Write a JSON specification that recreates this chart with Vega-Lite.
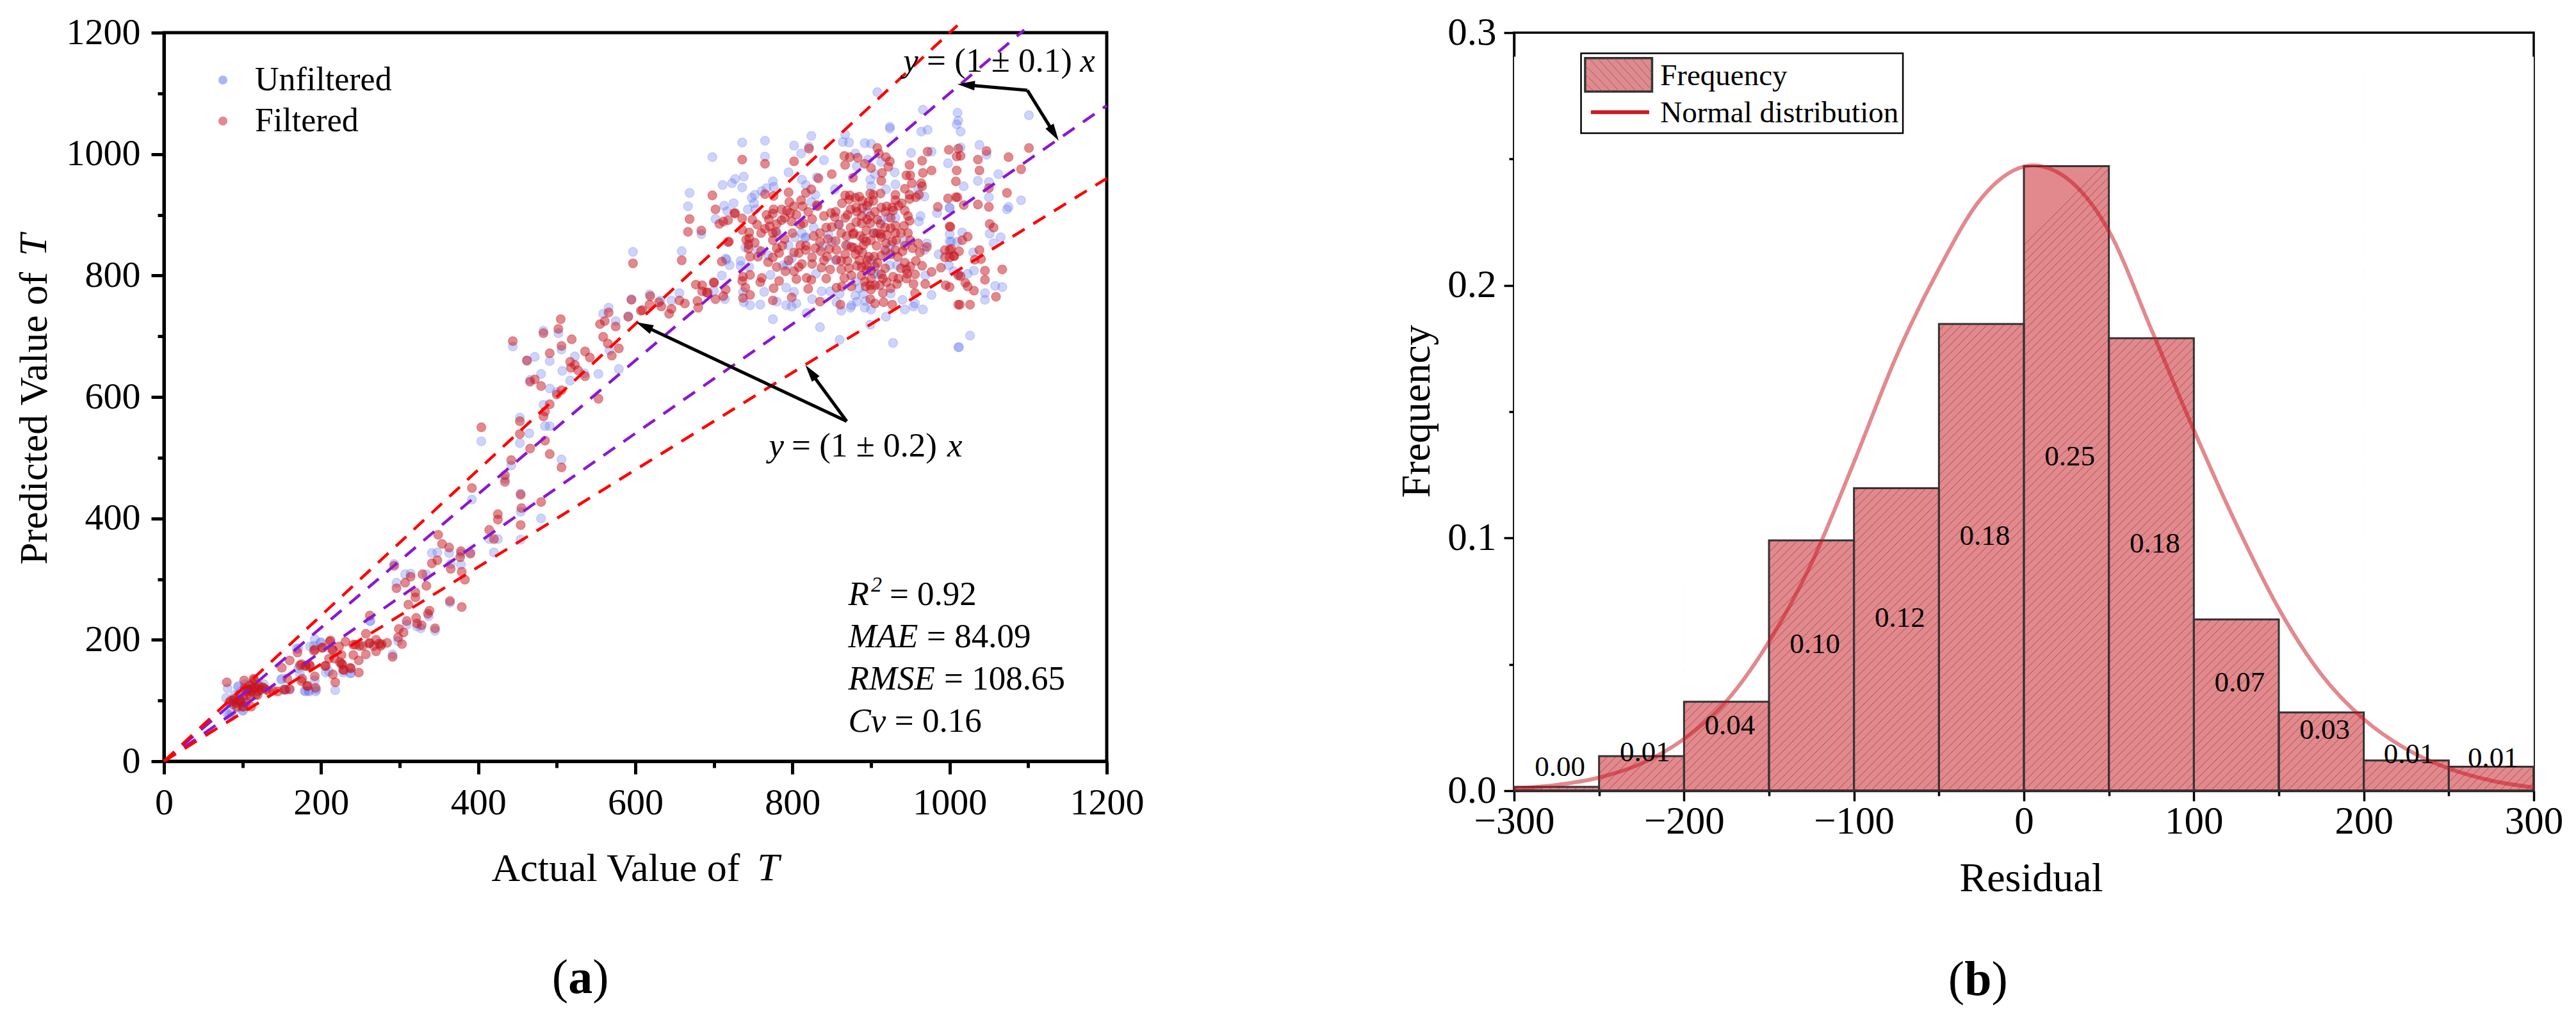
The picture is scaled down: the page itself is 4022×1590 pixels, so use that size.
{"$schema":"https://vega.github.io/schema/vega-lite/v6.json","padding":{"left":19,"top":18,"right":0,"bottom":0},"background":"white","bounds":"flush","spacing":636,"config":{"font":"Liberation Serif","text":{"font":"Liberation Serif"},"axis":{"labelFont":"Liberation Serif","titleFont":"Liberation Serif","labelColor":"black","titleColor":"black","titleFontWeight":"normal","domainColor":"black","tickColor":"black","grid":false}},"datasets":{"bars":[{"lo":-300,"hi":-250,"f":0.0015},{"lo":-250,"hi":-200,"f":0.0137},{"lo":-200,"hi":-150,"f":0.0352},{"lo":-150,"hi":-100,"f":0.0991},{"lo":-100,"hi":-50,"f":0.1197},{"lo":-50,"hi":0,"f":0.1847},{"lo":0,"hi":50,"f":0.2472},{"lo":50,"hi":100,"f":0.1791},{"lo":100,"hi":150,"f":0.0678},{"lo":150,"hi":200,"f":0.031},{"lo":200,"hi":250,"f":0.012},{"lo":250,"hi":300,"f":0.0095}],"unfiltered":[{"x":736,"y":1019},{"x":765,"y":1022},{"x":698,"y":995},{"x":765,"y":996},{"x":802,"y":1014},{"x":824,"y":1030},{"x":821,"y":1012},{"x":811,"y":1001},{"x":840,"y":990},{"x":795,"y":970},{"x":867,"y":1032},{"x":864,"y":1020},{"x":872,"y":1019},{"x":892,"y":1018},{"x":900,"y":1017},{"x":924,"y":1042},{"x":964,"y":1037},{"x":972,"y":1040},{"x":951,"y":1002},{"x":977,"y":1004},{"x":880,"y":1001},{"x":896,"y":991},{"x":882,"y":980},{"x":913,"y":987},{"x":930,"y":970},{"x":931,"y":950},{"x":738,"y":963},{"x":727,"y":959},{"x":723,"y":952},{"x":711,"y":949},{"x":736,"y":945},{"x":775,"y":955},{"x":767,"y":944},{"x":776,"y":946},{"x":761,"y":939},{"x":752,"y":933},{"x":748,"y":928},{"x":751,"y":919},{"x":743,"y":909},{"x":725,"y":919},{"x":713,"y":915},{"x":717,"y":906},{"x":753,"y":909},{"x":702,"y":893},{"x":817,"y":949},{"x":812,"y":958},{"x":831,"y":962},{"x":829,"y":933},{"x":824,"y":921},{"x":827,"y":879},{"x":803,"y":863},{"x":816,"y":862},{"x":817,"y":863},{"x":812,"y":870},{"x":846,"y":867},{"x":859,"y":884},{"x":854,"y":942},{"x":899,"y":958},{"x":905,"y":967},{"x":919,"y":942},{"x":900,"y":947},{"x":960,"y":942},{"x":968,"y":930},{"x":963,"y":898},{"x":961,"y":889},{"x":984,"y":903},{"x":1000,"y":911},{"x":913,"y":891},{"x":922,"y":896},{"x":931,"y":895},{"x":1000,"y":868},{"x":1000,"y":856},{"x":1010,"y":856},{"x":986,"y":835},{"x":971,"y":853},{"x":968,"y":842},{"x":942,"y":856},{"x":919,"y":838},{"x":1011,"y":803},{"x":999,"y":817},{"x":1005,"y":807},{"x":969,"y":800},{"x":933,"y":817},{"x":924,"y":817},{"x":909,"y":802},{"x":904,"y":803},{"x":901,"y":826},{"x":715,"y":828},{"x":720,"y":817},{"x":734,"y":824},{"x":734,"y":816},{"x":745,"y":814},{"x":772,"y":801},{"x":788,"y":817},{"x":793,"y":817},{"x":799,"y":828},{"x":769,"y":833},{"x":756,"y":842},{"x":740,"y":846},{"x":710,"y":800},{"x":700,"y":775},{"x":737,"y":773},{"x":764,"y":773},{"x":792,"y":780},{"x":802,"y":773},{"x":830,"y":803},{"x":837,"y":774},{"x":848,"y":774},{"x":880,"y":767},{"x":882,"y":757},{"x":856,"y":756},{"x":862,"y":742},{"x":874,"y":747},{"x":875,"y":751},{"x":893,"y":758},{"x":892,"y":747},{"x":900,"y":744},{"x":885,"y":779},{"x":825,"y":761},{"x":818,"y":738},{"x":775,"y":728},{"x":835,"y":715},{"x":805,"y":754},{"x":799,"y":749},{"x":792,"y":751},{"x":780,"y":757},{"x":759,"y":752},{"x":746,"y":751},{"x":738,"y":756},{"x":714,"y":761},{"x":943,"y":744},{"x":956,"y":754},{"x":954,"y":749},{"x":966,"y":744},{"x":977,"y":768},{"x":899,"y":719},{"x":919,"y":732},{"x":860,"y":694},{"x":928,"y":689},{"x":1011,"y":682},{"x":1101,"y":1064},{"x":1010,"y":1068},{"x":1011,"y":1055},{"x":1009,"y":1049},{"x":1014,"y":1037},{"x":966,"y":1073},{"x":908,"y":1102},{"x":924,"y":1045},{"x":1014,"y":1011},{"x":1038,"y":1015},{"x":1047,"y":999},{"x":998,"y":985},{"x":1062,"y":967},{"x":1036,"y":956},{"x":1050,"y":954},{"x":1018,"y":947},{"x":1050,"y":929},{"x":1091,"y":924},{"x":1075,"y":913},{"x":1073,"y":909},{"x":1000,"y":912},{"x":1051,"y":869},{"x":1016,"y":871},{"x":1002,"y":856},{"x":1065,"y":863},{"x":1056,"y":853},{"x":1030,"y":838},{"x":1023,"y":803},{"x":1031,"y":808},{"x":1058,"y":783},{"x":1067,"y":781},{"x":1045,"y":771},{"x":1045,"y":760},{"x":1012,"y":682},{"x":1026,"y":701},{"x":669,"y":936},{"x":667,"y":914},{"x":684,"y":868},{"x":659,"y":840},{"x":656,"y":771},{"x":646,"y":759},{"x":618,"y":769},{"x":632,"y":759},{"x":716,"y":826},{"x":597,"y":839},{"x":595,"y":761},{"x":566,"y":747},{"x":559,"y":737},{"x":575,"y":725},{"x":591,"y":733},{"x":483,"y":709},{"x":502,"y":705},{"x":444,"y":683},{"x":506,"y":678},{"x":472,"y":666},{"x":523,"y":667},{"x":491,"y":659},{"x":462,"y":660},{"x":507,"y":643},{"x":480,"y":638},{"x":466,"y":628},{"x":517,"y":627},{"x":535,"y":639},{"x":553,"y":638},{"x":579,"y":646},{"x":567,"y":677},{"x":491,"y":614},{"x":500,"y":608},{"x":483,"y":587},{"x":453,"y":566},{"x":485,"y":552},{"x":491,"y":552},{"x":465,"y":540},{"x":404,"y":527},{"x":453,"y":524},{"x":293,"y":325},{"x":296,"y":294},{"x":307,"y":308},{"x":314,"y":309},{"x":334,"y":308},{"x":341,"y":343},{"x":348,"y":344},{"x":363,"y":343},{"x":365,"y":325},{"x":378,"y":324},{"x":378,"y":342},{"x":390,"y":344},{"x":392,"y":431},{"x":414,"y":366},{"x":425,"y":366},{"x":420,"y":344},{"x":454,"y":365},{"x":454,"y":411},{"x":454,"y":441},{"x":480,"y":400},{"x":442,"y":487},{"x":506,"y":497},{"x":434,"y":465},{"x":364,"y":261},{"x":337,"y":239},{"x":322,"y":222},{"x":327,"y":219},{"x":345,"y":215},{"x":309,"y":225},{"x":262,"y":231},{"x":298,"y":198},{"x":291,"y":176},{"x":218,"y":117},{"x":210,"y":148},{"x":237,"y":145},{"x":228,"y":146},{"x":192,"y":201},{"x":199,"y":195},{"x":186,"y":189},{"x":171,"y":186},{"x":150,"y":136},{"x":194,"y":118},{"x":179,"y":116},{"x":184,"y":116},{"x":192,"y":133},{"x":173,"y":145},{"x":171,"y":153},{"x":160,"y":118},{"x":153,"y":118},{"x":127,"y":127},{"x":95,"y":124},{"x":103,"y":127},{"x":80,"y":79},{"x":85,"y":73},{"x":101,"y":84},{"x":90,"y":109},{"x":98,"y":115},{"x":83,"y":76},{"x":93,"y":88},{"x":81,"y":120},{"x":94,"y":122},{"x":149,"y":134},{"x":180,"y":115},{"x":185,"y":115},{"x":193,"y":115},{"x":263,"y":231},{"x":206,"y":146},{"x":238,"y":145},{"x":169,"y":185},{"x":191,"y":190},{"x":200,"y":196},{"x":86,"y":80},{"x":100,"y":83},{"x":79,"y":104},{"x":850,"y":855},{"x":838,"y":848},{"x":905,"y":870},{"x":895,"y":905},{"x":870,"y":850},{"x":925,"y":850},{"x":855,"y":825},{"x":890,"y":770},{"x":880,"y":790},{"x":860,"y":770},{"x":925,"y":770},{"x":940,"y":760},{"x":780,"y":870},{"x":795,"y":850}],"filtered":[{"x":821,"y":1009},{"x":736,"y":991},{"x":802,"y":988},{"x":765,"y":984},{"x":833,"y":960},{"x":850,"y":967},{"x":866,"y":997},{"x":873,"y":995},{"x":883,"y":994},{"x":867,"y":982},{"x":892,"y":984},{"x":900,"y":977},{"x":908,"y":1010},{"x":910,"y":1001},{"x":919,"y":995},{"x":924,"y":988},{"x":922,"y":979},{"x":914,"y":969},{"x":913,"y":956},{"x":877,"y":961},{"x":949,"y":982},{"x":945,"y":965},{"x":950,"y":965},{"x":952,"y":952},{"x":964,"y":952},{"x":965,"y":989},{"x":972,"y":1004},{"x":977,"y":973},{"x":966,"y":969},{"x":965,"y":947},{"x":943,"y":943},{"x":949,"y":933},{"x":961,"y":933},{"x":957,"y":929},{"x":949,"y":926},{"x":698,"y":932},{"x":702,"y":909},{"x":726,"y":903},{"x":727,"y":902},{"x":718,"y":891},{"x":712,"y":889},{"x":707,"y":885},{"x":736,"y":894},{"x":749,"y":892},{"x":755,"y":884},{"x":736,"y":875},{"x":745,"y":871},{"x":745,"y":861},{"x":752,"y":854},{"x":741,"y":859},{"x":744,"y":851},{"x":744,"y":844},{"x":746,"y":831},{"x":756,"y":831},{"x":719,"y":856},{"x":710,"y":823},{"x":765,"y":934},{"x":776,"y":931},{"x":795,"y":937},{"x":817,"y":936},{"x":824,"y":942},{"x":811,"y":924},{"x":796,"y":921},{"x":786,"y":909},{"x":802,"y":914},{"x":813,"y":914},{"x":776,"y":909},{"x":767,"y":900},{"x":775,"y":902},{"x":793,"y":907},{"x":797,"y":903},{"x":786,"y":891},{"x":799,"y":889},{"x":810,"y":884},{"x":814,"y":886},{"x":825,"y":893},{"x":832,"y":914},{"x":831,"y":916},{"x":840,"y":898},{"x":849,"y":903},{"x":854,"y":896},{"x":843,"y":879},{"x":835,"y":870},{"x":827,"y":865},{"x":765,"y":877},{"x":775,"y":870},{"x":779,"y":872},{"x":775,"y":858},{"x":771,"y":881},{"x":787,"y":849},{"x":780,"y":845},{"x":783,"y":837},{"x":802,"y":838},{"x":808,"y":837},{"x":817,"y":849},{"x":817,"y":842},{"x":829,"y":845},{"x":836,"y":840},{"x":844,"y":831},{"x":847,"y":844},{"x":855,"y":857},{"x":856,"y":842},{"x":867,"y":835},{"x":856,"y":826},{"x":862,"y":824},{"x":870,"y":824},{"x":848,"y":810},{"x":837,"y":813},{"x":825,"y":819},{"x":812,"y":819},{"x":808,"y":814},{"x":802,"y":807},{"x":791,"y":807},{"x":780,"y":814},{"x":769,"y":822},{"x":805,"y":794},{"x":818,"y":796},{"x":824,"y":793},{"x":783,"y":791},{"x":761,"y":796},{"x":759,"y":789},{"x":737,"y":798},{"x":736,"y":791},{"x":746,"y":801},{"x":740,"y":780},{"x":746,"y":768},{"x":737,"y":763},{"x":775,"y":759},{"x":776,"y":779},{"x":820,"y":778},{"x":799,"y":764},{"x":835,"y":757},{"x":700,"y":789},{"x":715,"y":777},{"x":712,"y":766},{"x":702,"y":761},{"x":691,"y":772},{"x":867,"y":932},{"x":873,"y":932},{"x":880,"y":928},{"x":863,"y":919},{"x":874,"y":909},{"x":881,"y":912},{"x":889,"y":923},{"x":899,"y":935},{"x":903,"y":933},{"x":912,"y":935},{"x":897,"y":921},{"x":903,"y":923},{"x":889,"y":911},{"x":913,"y":912},{"x":920,"y":914},{"x":927,"y":912},{"x":931,"y":933},{"x":931,"y":924},{"x":939,"y":919},{"x":943,"y":907},{"x":947,"y":898},{"x":949,"y":890},{"x":928,"y":907},{"x":888,"y":898},{"x":899,"y":898},{"x":867,"y":895},{"x":859,"y":884},{"x":874,"y":879},{"x":881,"y":888},{"x":888,"y":886},{"x":899,"y":886},{"x":894,"y":874},{"x":878,"y":870},{"x":877,"y":868},{"x":869,"y":865},{"x":886,"y":865},{"x":894,"y":856},{"x":890,"y":861},{"x":900,"y":858},{"x":918,"y":879},{"x":912,"y":868},{"x":913,"y":863},{"x":908,"y":870},{"x":920,"y":867},{"x":931,"y":882},{"x":931,"y":870},{"x":932,"y":858},{"x":919,"y":853},{"x":927,"y":856},{"x":947,"y":870},{"x":942,"y":882},{"x":907,"y":849},{"x":931,"y":842},{"x":960,"y":853},{"x":953,"y":845},{"x":971,"y":847},{"x":943,"y":849},{"x":878,"y":846},{"x":884,"y":842},{"x":889,"y":838},{"x":875,"y":847},{"x":904,"y":831},{"x":913,"y":833},{"x":897,"y":831},{"x":934,"y":831},{"x":894,"y":817},{"x":888,"y":814},{"x":882,"y":816},{"x":894,"y":809},{"x":908,"y":821},{"x":918,"y":812},{"x":913,"y":802},{"x":928,"y":798},{"x":920,"y":789},{"x":911,"y":784},{"x":905,"y":784},{"x":899,"y":784},{"x":893,"y":782},{"x":900,"y":777},{"x":915,"y":771},{"x":925,"y":779},{"x":933,"y":786},{"x":943,"y":821},{"x":957,"y":824},{"x":965,"y":816},{"x":945,"y":810},{"x":956,"y":802},{"x":946,"y":803},{"x":977,"y":806},{"x":954,"y":786},{"x":969,"y":786},{"x":956,"y":771},{"x":866,"y":796},{"x":875,"y":782},{"x":856,"y":780},{"x":863,"y":782},{"x":861,"y":752},{"x":899,"y":761},{"x":905,"y":754},{"x":916,"y":756},{"x":927,"y":752},{"x":985,"y":913},{"x":998,"y":927},{"x":1008,"y":929},{"x":1000,"y":881},{"x":994,"y":842},{"x":1000,"y":842},{"x":994,"y":830},{"x":1000,"y":830},{"x":1006,"y":832},{"x":989,"y":813},{"x":995,"y":784},{"x":1000,"y":781},{"x":1011,"y":800},{"x":1011,"y":752},{"x":1101,"y":1010},{"x":1075,"y":995},{"x":1091,"y":975},{"x":1047,"y":1005},{"x":1036,"y":991},{"x":1038,"y":973},{"x":1011,"y":1009},{"x":1009,"y":996},{"x":1014,"y":997},{"x":999,"y":1007},{"x":1009,"y":973},{"x":1008,"y":955},{"x":1050,"y":944},{"x":1073,"y":936},{"x":1036,"y":917},{"x":1050,"y":913},{"x":1010,"y":929},{"x":1018,"y":916},{"x":1001,"y":880},{"x":1051,"y":885},{"x":1056,"y":879},{"x":1023,"y":864},{"x":1016,"y":858},{"x":1038,"y":842},{"x":1012,"y":840},{"x":1002,"y":844},{"x":1005,"y":832},{"x":1032,"y":826},{"x":1040,"y":827},{"x":1045,"y":808},{"x":1067,"y":810},{"x":1014,"y":799},{"x":1020,"y":788},{"x":1045,"y":793},{"x":1023,"y":782},{"x":1031,"y":775},{"x":1059,"y":765},{"x":1013,"y":752},{"x":1026,"y":752},{"x":669,"y":893},{"x":667,"y":872},{"x":684,"y":874},{"x":659,"y":825},{"x":718,"y":855},{"x":700,"y":788},{"x":677,"y":785},{"x":685,"y":784},{"x":685,"y":774},{"x":692,"y":772},{"x":680,"y":747},{"x":679,"y":758},{"x":663,"y":754},{"x":656,"y":759},{"x":646,"y":745},{"x":633,"y":749},{"x":630,"y":756},{"x":619,"y":766},{"x":618,"y":752},{"x":609,"y":743},{"x":643,"y":737},{"x":597,"y":820},{"x":595,"y":760},{"x":607,"y":742},{"x":505,"y":728},{"x":502,"y":712},{"x":483,"y":705},{"x":519,"y":695},{"x":444,"y":692},{"x":491,"y":672},{"x":506,"y":684},{"x":462,"y":660},{"x":517,"y":658},{"x":523,"y":653},{"x":518,"y":648},{"x":527,"y":644},{"x":536,"y":634},{"x":536,"y":675},{"x":542,"y":665},{"x":466,"y":625},{"x":472,"y":629},{"x":480,"y":618},{"x":555,"y":720},{"x":561,"y":725},{"x":566,"y":739},{"x":575,"y":716},{"x":591,"y":732},{"x":559,"y":699},{"x":565,"y":688},{"x":570,"y":668},{"x":579,"y":680},{"x":553,"y":597},{"x":506,"y":611},{"x":500,"y":604},{"x":491,"y":588},{"x":485,"y":576},{"x":483,"y":568},{"x":453,"y":560},{"x":453,"y":539},{"x":404,"y":550},{"x":485,"y":528},{"x":466,"y":515},{"x":442,"y":496},{"x":491,"y":506},{"x":506,"y":484},{"x":434,"y":471},{"x":434,"y":460},{"x":392,"y":450},{"x":454,"y":439},{"x":480,"y":427},{"x":455,"y":417},{"x":425,"y":407},{"x":425,"y":398},{"x":454,"y":389},{"x":414,"y":381},{"x":420,"y":366},{"x":349,"y":373},{"x":354,"y":358},{"x":363,"y":352},{"x":378,"y":346},{"x":390,"y":342},{"x":377,"y":336},{"x":348,"y":331},{"x":341,"y":326},{"x":365,"y":317},{"x":293,"y":322},{"x":379,"y":312},{"x":383,"y":299},{"x":329,"y":308},{"x":314,"y":304},{"x":307,"y":294},{"x":296,"y":285},{"x":334,"y":289},{"x":320,"y":278},{"x":320,"y":270},{"x":311,"y":258},{"x":364,"y":264},{"x":379,"y":254},{"x":338,"y":248},{"x":336,"y":243},{"x":262,"y":240},{"x":321,"y":236},{"x":309,"y":231},{"x":322,"y":227},{"x":328,"y":224},{"x":345,"y":219},{"x":299,"y":218},{"x":257,"y":210},{"x":305,"y":212},{"x":298,"y":204},{"x":303,"y":193},{"x":291,"y":172},{"x":284,"y":195},{"x":270,"y":200},{"x":262,"y":195},{"x":277,"y":193},{"x":270,"y":181},{"x":257,"y":176},{"x":249,"y":190},{"x":244,"y":192},{"x":241,"y":175},{"x":248,"y":166},{"x":248,"y":146},{"x":237,"y":154},{"x":231,"y":197},{"x":223,"y":189},{"x":211,"y":197},{"x":214,"y":184},{"x":201,"y":187},{"x":192,"y":184},{"x":170,"y":179},{"x":160,"y":166},{"x":150,"y":154},{"x":227,"y":160},{"x":224,"y":163},{"x":228,"y":151},{"x":205,"y":157},{"x":192,"y":140},{"x":215,"y":143},{"x":218,"y":130},{"x":173,"y":158},{"x":181,"y":157},{"x":186,"y":157},{"x":176,"y":136},{"x":182,"y":124},{"x":193,"y":121},{"x":157,"y":136},{"x":160,"y":119},{"x":153,"y":118},{"x":145,"y":115},{"x":134,"y":115},{"x":127,"y":121},{"x":114,"y":136},{"x":102,"y":133},{"x":80,"y":130},{"x":103,"y":121},{"x":111,"y":115},{"x":119,"y":109},{"x":108,"y":118},{"x":85,"y":100},{"x":90,"y":103},{"x":98,"y":97},{"x":88,"y":94},{"x":93,"y":90},{"x":101,"y":90},{"x":111,"y":90},{"x":83,"y":97},{"x":121,"y":124},{"x":116,"y":121},{"x":106,"y":109},{"x":95,"y":109},{"x":115,"y":134},{"x":109,"y":125},{"x":117,"y":122},{"x":107,"y":118},{"x":123,"y":118},{"x":130,"y":118},{"x":139,"y":116},{"x":155,"y":118},{"x":96,"y":101},{"x":100,"y":90},{"x":101,"y":104},{"x":117,"y":110},{"x":175,"y":160},{"x":180,"y":157},{"x":185,"y":159},{"x":175,"y":132},{"x":183,"y":124},{"x":206,"y":157},{"x":226,"y":160},{"x":229,"y":150},{"x":238,"y":153},{"x":191,"y":182},{"x":202,"y":187},{"x":212,"y":199},{"x":215,"y":183},{"x":241,"y":192},{"x":253,"y":190},{"x":267,"y":190},{"x":274,"y":194},{"x":276,"y":190},{"x":261,"y":194},{"x":226,"y":175},{"x":217,"y":169},{"x":210,"y":169},{"x":872,"y":925},{"x":885,"y":930},{"x":895,"y":915},{"x":905,"y":905},{"x":918,"y":905},{"x":935,"y":915},{"x":925,"y":895},{"x":912,"y":885},{"x":903,"y":870},{"x":890,"y":850},{"x":880,"y":835},{"x":868,"y":850},{"x":862,"y":870},{"x":855,"y":905},{"x":870,"y":900},{"x":882,"y":905},{"x":895,"y":892},{"x":908,"y":892},{"x":918,"y":842},{"x":925,"y":835},{"x":940,"y":840},{"x":950,"y":858},{"x":938,"y":870},{"x":925,"y":878},{"x":905,"y":815},{"x":895,"y":825},{"x":885,"y":825},{"x":872,"y":812},{"x":888,"y":800},{"x":900,"y":795},{"x":915,"y":795},{"x":900,"y":808},{"x":892,"y":790},{"x":938,"y":812},{"x":950,"y":815},{"x":962,"y":838},{"x":790,"y":895},{"x":805,"y":900},{"x":820,"y":905},{"x":780,"y":885},{"x":770,"y":892},{"x":760,"y":870},{"x":790,"y":860},{"x":800,"y":870},{"x":810,"y":850},{"x":825,"y":830},{"x":840,"y":825},{"x":795,"y":825},{"x":775,"y":830},{"x":760,"y":840},{"x":845,"y":860},{"x":835,"y":855},{"x":850,"y":880},{"x":862,"y":810},{"x":875,"y":800},{"x":843,"y":795},{"x":935,"y":795},{"x":945,"y":795},{"x":92,"y":96},{"x":97,"y":100},{"x":88,"y":100},{"x":104,"y":96},{"x":110,"y":108},{"x":112,"y":120},{"x":120,"y":115},{"x":125,"y":122},{"x":113,"y":128},{"x":105,"y":115}]},"hconcat":[{"width":1472,"height":1138,"view":{"stroke":"black","strokeWidth":5},"layer":[{"data":{"name":"unfiltered"},"mark":{"type":"point","filled":true,"size":200,"fillOpacity":0.3,"stroke":"#5a6cf0","strokeOpacity":0.22,"strokeWidth":1.5},"encoding":{"x":{"field":"x","type":"quantitative","scale":{"domain":[0,1200],"nice":false,"zero":false},"axis":{"values":[0,100,200,300,400,500,600,700,800,900,1000,1100,1200],"format":"d","labelExpr":"datum.value % 200 ? '' : datum.label","title":"Actual Value of","titleFontSize":62,"titleX":705,"titleY":186,"titleAlign":"center","titleBaseline":"alphabetic","labelFontSize":58,"labelPadding":16,"labelOverlap":false,"labelFlush":false,"tickSize":{"condition":{"test":"datum.value % 200 === 0","value":20},"value":10},"tickWidth":5,"domainWidth":5}},"y":{"field":"y","type":"quantitative","scale":{"domain":[0,1200],"nice":false,"zero":false},"axis":{"values":[0,100,200,300,400,500,600,700,800,900,1000,1100,1200],"format":"d","labelExpr":"datum.value % 200 ? '' : datum.label","title":"Predicted Value of","titleFontSize":62,"titleX":-184,"titleY":602,"titleAlign":"center","titleBaseline":"alphabetic","labelFontSize":58,"labelPadding":17,"labelOverlap":false,"labelFlush":false,"tickSize":{"condition":{"test":"datum.value % 200 === 0","value":20},"value":10},"tickWidth":5,"domainWidth":5}},"color":{"datum":"Unfiltered","scale":{"domain":["Unfiltered","Filtered"],"range":["#5a6cf0","#c5141e"]},"legend":{"title":null,"orient":"none","legendX":66,"legendY":48,"labelFontSize":52,"labelFont":"Liberation Serif","labelColor":"black","labelLimit":0,"symbolType":"circle","symbolSize":200,"symbolOpacity":0.5,"symbolStrokeWidth":0,"labelOffset":24,"rowPadding":12}}}},{"data":{"name":"filtered"},"mark":{"type":"point","filled":true,"size":200,"fillOpacity":0.5,"stroke":"#c5141e","strokeOpacity":0.3,"strokeWidth":1.5},"encoding":{"x":{"field":"x","type":"quantitative"},"y":{"field":"y","type":"quantitative"},"color":{"datum":"Filtered"}}},{"data":{"values":[{"k":"1.1","x":0,"y":0},{"k":"1.1","x":1095,"y":1204.5},{"k":"0.9","x":0,"y":0},{"k":"0.9","x":1200,"y":1080}]},"mark":{"type":"line","stroke":"#8a18d0","strokeWidth":4.5,"strokeDash":[22,16],"clip":false},"encoding":{"x":{"field":"x","type":"quantitative"},"y":{"field":"y","type":"quantitative"},"detail":{"field":"k"}}},{"data":{"values":[{"k":"1.2","x":0,"y":0},{"k":"1.2","x":1010,"y":1212},{"k":"0.8","x":0,"y":0},{"k":"0.8","x":1200,"y":960}]},"mark":{"type":"line","stroke":"#ff0000","strokeWidth":4.5,"strokeDash":[22,16],"clip":false},"encoding":{"x":{"field":"x","type":"quantitative"},"y":{"field":"y","type":"quantitative"},"detail":{"field":"k"}}},{"data":{"values":[{"x":1099,"y":1105,"x2":1021,"y2":1114},{"x":1099,"y":1105,"x2":1133,"y2":1034},{"x":869,"y":560,"x2":823,"y2":641},{"x":869,"y":560,"x2":611,"y2":717}]},"mark":{"type":"rule","color":"black","strokeWidth":5},"encoding":{"x":{"field":"x","type":"quantitative"},"y":{"field":"y","type":"quantitative"},"x2":{"field":"x2"},"y2":{"field":"y2"}}},{"data":{"values":[{"x":1021,"y":1114,"angle":275},{"x":1133,"y":1034,"angle":148},{"x":823,"y":641,"angle":323},{"x":611,"y":717,"angle":295}]},"mark":{"type":"point","filled":true,"color":"black","opacity":1,"size":729,"shape":"M0,-1L0.55,1L-0.55,1Z"},"encoding":{"x":{"field":"x","type":"quantitative"},"y":{"field":"y","type":"quantitative"},"angle":{"field":"angle","type":"quantitative","scale":null}}},{"data":{"values":[{"x":923.6,"y":257,"t":"= 0.92"},{"x":971,"y":188,"t":"= 84.09"},{"x":993,"y":118,"t":"= 108.65"},{"x":930,"y":48,"t":"= 0.16"},{"x":971,"y":1136,"t":"= (1 ± 0.1)"},{"x":799,"y":502,"t":"= (1 ± 0.2)"}]},"mark":{"type":"text","fontSize":53,"align":"left","baseline":"alphabetic","color":"black"},"encoding":{"x":{"field":"x","type":"quantitative"},"y":{"field":"y","type":"quantitative"},"text":{"field":"t"}}},{"data":{"values":[{"x":871,"y":257,"t":"R"},{"x":871,"y":188,"t":"MAE"},{"x":871,"y":118,"t":"RMSE"},{"x":871,"y":48,"t":"Cv"},{"x":941,"y":1136,"t":"y"},{"x":1166,"y":1136,"t":"x"},{"x":770,"y":502,"t":"y"},{"x":997,"y":502,"t":"x"}]},"mark":{"type":"text","fontSize":53,"fontStyle":"italic","align":"left","baseline":"alphabetic","color":"black"},"encoding":{"x":{"field":"x","type":"quantitative"},"y":{"field":"y","type":"quantitative"},"text":{"field":"t"}}},{"data":{"values":[{"x":900,"y":279,"t":"2"}]},"mark":{"type":"text","fontSize":34,"fontStyle":"italic","align":"left","baseline":"alphabetic","color":"black"},"encoding":{"x":{"field":"x","type":"quantitative"},"y":{"field":"y","type":"quantitative"},"text":{"field":"t"}}},{"data":{"values":[{"x":755,"y":-196,"t":"T"}]},"mark":{"type":"text","fontSize":62,"fontStyle":"italic","align":"left","baseline":"alphabetic","color":"black"},"encoding":{"x":{"field":"x","type":"quantitative"},"y":{"field":"y","type":"quantitative"},"text":{"field":"t"}}},{"data":{"values":[{"x":-150,"y":832,"t":"T"}]},"mark":{"type":"text","fontSize":62,"fontStyle":"italic","angle":270,"align":"left","baseline":"alphabetic","color":"black"},"encoding":{"x":{"field":"x","type":"quantitative"},"y":{"field":"y","type":"quantitative"},"text":{"field":"t"}}},{"data":{"values":[{"x":514.5,"y":-382,"t":"("}]},"mark":{"type":"text","fontSize":76,"align":"right","baseline":"alphabetic","color":"black"},"encoding":{"x":{"field":"x","type":"quantitative"},"y":{"field":"y","type":"quantitative"},"text":{"field":"t"}}},{"data":{"values":[{"x":530,"y":-382,"t":"a"}]},"mark":{"type":"text","fontSize":76,"fontWeight":"bold","align":"center","baseline":"alphabetic","color":"black"},"encoding":{"x":{"field":"x","type":"quantitative"},"y":{"field":"y","type":"quantitative"},"text":{"field":"t"}}},{"data":{"values":[{"x":545.5,"y":-382,"t":")"}]},"mark":{"type":"text","fontSize":76,"align":"left","baseline":"alphabetic","color":"black"},"encoding":{"x":{"field":"x","type":"quantitative"},"y":{"field":"y","type":"quantitative"},"text":{"field":"t"}}}]},{"width":1592,"height":1184,"view":{"stroke":"black","strokeWidth":3.5},"layer":[{"data":{"values":[{"h":-320,"h2":110},{"h":-315,"h2":115},{"h":-310,"h2":120},{"h":-305,"h2":125},{"h":-300,"h2":130},{"h":-295,"h2":135},{"h":-290,"h2":140},{"h":-285,"h2":145},{"h":-280,"h2":150},{"h":-275,"h2":155},{"h":-270,"h2":160},{"h":-265,"h2":165},{"h":-260,"h2":170},{"h":-255,"h2":175},{"h":-250,"h2":180},{"h":-245,"h2":185},{"h":-240,"h2":190},{"h":-235,"h2":195},{"h":-230,"h2":200},{"h":-225,"h2":205},{"h":-220,"h2":210},{"h":-215,"h2":215},{"h":-210,"h2":220},{"h":-205,"h2":225},{"h":-200,"h2":230},{"h":-195,"h2":235},{"h":-190,"h2":240},{"h":-185,"h2":245},{"h":-180,"h2":250},{"h":-175,"h2":255},{"h":-170,"h2":260},{"h":-165,"h2":265},{"h":-160,"h2":270},{"h":-155,"h2":275},{"h":-150,"h2":280},{"h":-145,"h2":285},{"h":-140,"h2":290},{"h":-135,"h2":295},{"h":-130,"h2":300},{"h":-125,"h2":305},{"h":-120,"h2":310},{"h":-115,"h2":315},{"h":-110,"h2":320},{"h":-105,"h2":325},{"h":-100,"h2":330},{"h":-95,"h2":335},{"h":-90,"h2":340},{"h":-85,"h2":345},{"h":-80,"h2":350},{"h":-75,"h2":355},{"h":-70,"h2":360},{"h":-65,"h2":365},{"h":-60,"h2":370},{"h":-55,"h2":375},{"h":-50,"h2":380},{"h":-45,"h2":385},{"h":-40,"h2":390},{"h":-35,"h2":395},{"h":-30,"h2":400},{"h":-25,"h2":405},{"h":-20,"h2":410},{"h":-15,"h2":415},{"h":-10,"h2":420},{"h":-5,"h2":425},{"h":0,"h2":430},{"h":5,"h2":435},{"h":10,"h2":440},{"h":15,"h2":445},{"h":20,"h2":450},{"h":25,"h2":455},{"h":30,"h2":460},{"h":35,"h2":465},{"h":40,"h2":470},{"h":45,"h2":475},{"h":50,"h2":480},{"h":55,"h2":485},{"h":60,"h2":490},{"h":65,"h2":495},{"h":70,"h2":500},{"h":75,"h2":505},{"h":80,"h2":510},{"h":85,"h2":515},{"h":90,"h2":520},{"h":95,"h2":525},{"h":100,"h2":530},{"h":105,"h2":535},{"h":110,"h2":540},{"h":115,"h2":545},{"h":120,"h2":550},{"h":125,"h2":555},{"h":130,"h2":560},{"h":135,"h2":565},{"h":140,"h2":570},{"h":145,"h2":575},{"h":150,"h2":580},{"h":155,"h2":585},{"h":160,"h2":590},{"h":165,"h2":595},{"h":170,"h2":600},{"h":175,"h2":605},{"h":180,"h2":610},{"h":185,"h2":615},{"h":190,"h2":620},{"h":195,"h2":625},{"h":200,"h2":630},{"h":205,"h2":635},{"h":210,"h2":640},{"h":215,"h2":645},{"h":220,"h2":650},{"h":225,"h2":655},{"h":230,"h2":660},{"h":235,"h2":665},{"h":240,"h2":670},{"h":245,"h2":675},{"h":250,"h2":680},{"h":255,"h2":685},{"h":260,"h2":690},{"h":265,"h2":695},{"h":270,"h2":700},{"h":275,"h2":705},{"h":280,"h2":710},{"h":285,"h2":715},{"h":290,"h2":720},{"h":295,"h2":725}]},"mark":{"type":"rule","color":"#666666","strokeWidth":0.8,"clip":true},"encoding":{"x":{"field":"h","type":"quantitative","scale":{"domain":[-300,300],"nice":false,"zero":false},"axis":{"values":[-300,-250,-200,-150,-100,-50,0,50,100,150,200,250,300],"labelExpr":"datum.value % 100 ? '' : datum.label","title":"Residual","titleFontSize":64,"titleX":807,"titleY":156,"titleAlign":"center","titleBaseline":"alphabetic","labelFontSize":61,"labelPadding":2,"labelOverlap":false,"labelFlush":false,"tickSize":{"condition":{"test":"datum.value % 100 === 0","value":16},"value":8},"tickWidth":3.5,"domainWidth":3.5}},"x2":{"field":"h2"},"y":{"datum":0,"type":"quantitative","scale":{"domain":[0,0.3],"nice":false,"zero":false},"axis":{"values":[0,0.05,0.1,0.15,0.2,0.25,0.3],"labelExpr":"round(datum.value*100) % 10 ? '' : format(datum.value,'.1f')","title":"Frequency","titleFontSize":64,"titleX":-133,"titleY":591,"titleAlign":"center","titleBaseline":"alphabetic","labelFontSize":61,"labelPadding":12,"labelOverlap":false,"labelFlush":false,"tickSize":{"condition":{"test":"round(datum.value*100) % 10 === 0","value":16},"value":8},"tickWidth":3.5,"domainWidth":3.5}},"y2":{"datum":0.29}}},{"data":{"name":"bars"},"mark":{"type":"rect","fill":"white"},"encoding":{"x":{"field":"lo","type":"quantitative"},"x2":{"field":"hi"},"y":{"field":"f","type":"quantitative"},"y2":{"datum":0.2905}}},{"data":{"name":"bars"},"mark":{"type":"rect","fill":"#c5141e","fillOpacity":0.5,"stroke":"#333333","strokeWidth":3},"encoding":{"x":{"field":"lo","type":"quantitative"},"x2":{"field":"hi"},"y":{"field":"f","type":"quantitative"},"y2":{"datum":0}}},{"data":{"values":[{"r":-300,"d":0.0009},{"r":-275,"d":0.0023},{"r":-250,"d":0.0052},{"r":-225,"d":0.0108},{"r":-200,"d":0.0205},{"r":-175,"d":0.0355},{"r":-150,"d":0.059},{"r":-125,"d":0.09},{"r":-100,"d":0.13},{"r":-75,"d":0.172},{"r":-50,"d":0.2065},{"r":-25,"d":0.2345},{"r":0,"d":0.247},{"r":5,"d":0.2475},{"r":25,"d":0.2425},{"r":50,"d":0.2215},{"r":75,"d":0.1825},{"r":100,"d":0.1427},{"r":125,"d":0.1054},{"r":150,"d":0.072},{"r":175,"d":0.046},{"r":200,"d":0.0283},{"r":225,"d":0.0165},{"r":250,"d":0.0088},{"r":275,"d":0.004},{"r":300,"d":0.0013}]},"mark":{"type":"line","color":"#c5141e","opacity":0.5,"strokeWidth":6,"interpolate":"monotone"},"encoding":{"x":{"field":"r","type":"quantitative"},"y":{"field":"d","type":"quantitative"}}},{"data":{"values":[{"r":-273,"v":0.0058,"t":"0.00"},{"r":-223,"v":0.0117,"t":"0.01"},{"r":-173,"v":0.0224,"t":"0.04"},{"r":-123,"v":0.0546,"t":"0.10"},{"r":-73,"v":0.0648,"t":"0.12"},{"r":-23,"v":0.0973,"t":"0.18"},{"r":27,"v":0.1287,"t":"0.25"},{"r":77,"v":0.0943,"t":"0.18"},{"r":127,"v":0.0393,"t":"0.07"},{"r":177,"v":0.0205,"t":"0.03"},{"r":226.6,"v":0.0109,"t":"0.01"},{"r":276,"v":0.0094,"t":"0.01"}]},"mark":{"type":"text","fontSize":45,"align":"center","baseline":"alphabetic","color":"black"},"encoding":{"x":{"field":"r","type":"quantitative"},"y":{"field":"v","type":"quantitative"},"text":{"field":"t"}}},{"data":{"values":[{"a":-260.6,"b":-71.2,"c":0.2602,"e":0.2918}]},"mark":{"type":"rect","fill":"white","stroke":"black","strokeWidth":2.5},"encoding":{"x":{"field":"a","type":"quantitative"},"x2":{"field":"b"},"y":{"field":"c","type":"quantitative"},"y2":{"field":"e"}}},{"data":{"values":[{"a":-258.2,"b":-218.8,"c":0.2767,"e":0.2899}]},"mark":{"type":"rect","fill":"#c5141e","fillOpacity":0.5,"stroke":"#333333","strokeWidth":3.5},"encoding":{"x":{"field":"a","type":"quantitative"},"x2":{"field":"b"},"y":{"field":"c","type":"quantitative"},"y2":{"field":"e"}}},{"data":{"values":[{"a":-258.2,"b":-253,"c":0.2802,"e":0.2767},{"a":-258.2,"b":-248,"c":0.2836,"e":0.2767},{"a":-258.2,"b":-243,"c":0.287,"e":0.2767},{"a":-256,"b":-238,"c":0.2899,"e":0.2767},{"a":-251,"b":-233,"c":0.2899,"e":0.2767},{"a":-246,"b":-228,"c":0.2899,"e":0.2767},{"a":-241,"b":-223,"c":0.2899,"e":0.2767},{"a":-236,"b":-218.8,"c":0.2899,"e":0.2772},{"a":-231,"b":-218.8,"c":0.2899,"e":0.2806},{"a":-226,"b":-218.8,"c":0.2899,"e":0.284}]},"mark":{"type":"rule","color":"#666666","strokeWidth":0.8},"encoding":{"x":{"field":"a","type":"quantitative"},"x2":{"field":"b"},"y":{"field":"c","type":"quantitative"},"y2":{"field":"e"}}},{"data":{"values":[{"r":-254.8,"d":0.2685},{"r":-220.5,"d":0.2685}]},"mark":{"type":"line","color":"#cc1a22","strokeWidth":6},"encoding":{"x":{"field":"r","type":"quantitative"},"y":{"field":"d","type":"quantitative"}}},{"data":{"values":[{"r":-214,"d":0.2792,"t":"Frequency"},{"r":-214,"d":0.2645,"t":"Normal distribution"}]},"mark":{"type":"text","fontSize":47,"align":"left","baseline":"alphabetic","color":"black"},"encoding":{"x":{"field":"r","type":"quantitative"},"y":{"field":"d","type":"quantitative"},"text":{"field":"t"}}},{"data":{"values":[{"r":-35,"d":-0.0808,"t":"("}]},"mark":{"type":"text","fontSize":76,"align":"right","baseline":"alphabetic","color":"black"},"encoding":{"x":{"field":"r","type":"quantitative"},"y":{"field":"d","type":"quantitative"},"text":{"field":"t"}}},{"data":{"values":[{"r":-27,"d":-0.0808,"t":"b"}]},"mark":{"type":"text","fontSize":76,"fontWeight":"bold","align":"center","baseline":"alphabetic","color":"black"},"encoding":{"x":{"field":"r","type":"quantitative"},"y":{"field":"d","type":"quantitative"},"text":{"field":"t"}}},{"data":{"values":[{"r":-19,"d":-0.0808,"t":")"}]},"mark":{"type":"text","fontSize":76,"align":"left","baseline":"alphabetic","color":"black"},"encoding":{"x":{"field":"r","type":"quantitative"},"y":{"field":"d","type":"quantitative"},"text":{"field":"t"}}}]}],"resolve":{"scale":{"x":"independent","y":"independent","color":"independent"}}}
